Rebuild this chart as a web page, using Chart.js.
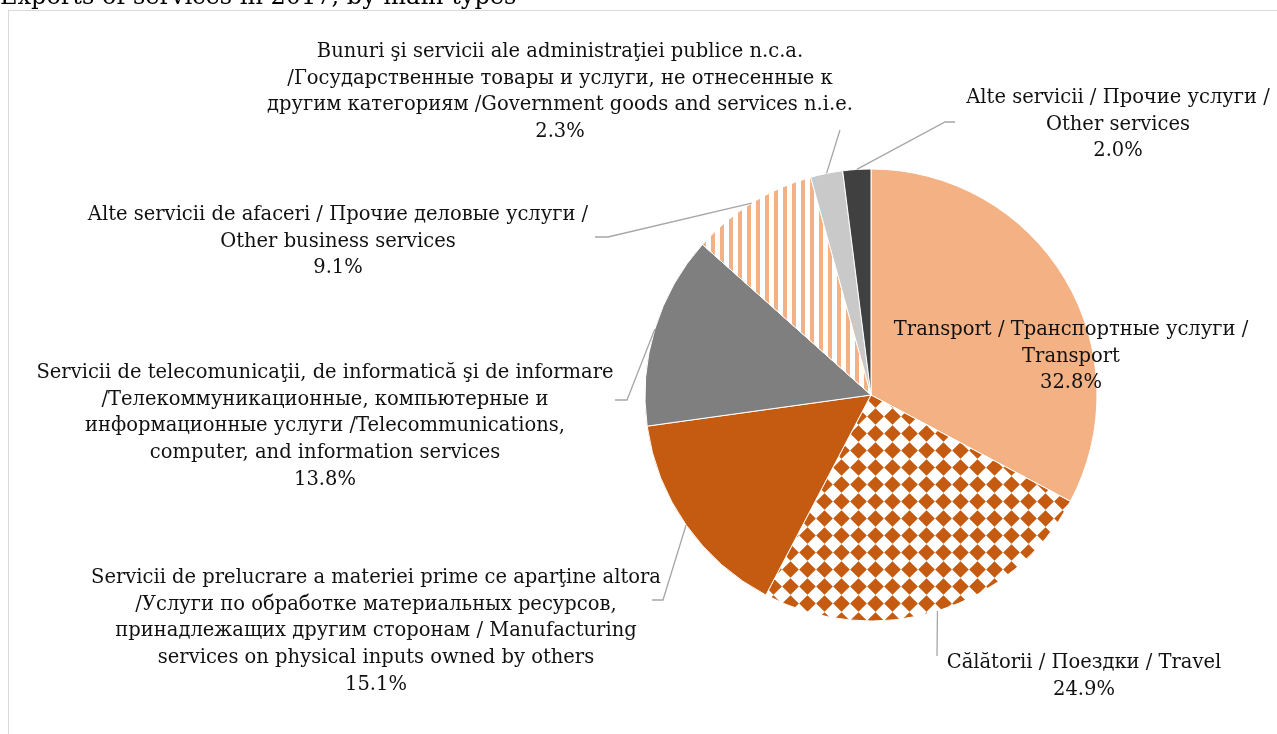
<!DOCTYPE html>
<html>
<head>
<meta charset="utf-8">
<script src="https://cdn.jsdelivr.net/npm/chart.js@4/dist/chart.umd.min.js"></script>
<style>
    html, body { margin: 0; padding: 0; background: #fff; }
    #wrap { position: relative; width: 1277px; height: 734px; }
</style>
</head>
<body>
<div id="wrap"><canvas id="chart" width="1277" height="734"></canvas></div>
<script>
const chartTitle = 'Exports of services in 2017, by main types';

const categories = [
    ['Transport / Транспортные услуги /', 'Transport'],
    ['Călătorii / Поездки / Travel'],
    ['Servicii de prelucrare a materiei prime ce aparţine altora', '/Услуги по обработке материальных ресурсов,', 'принадлежащих другим сторонам / Manufacturing', 'services on physical inputs owned by others'],
    ['Servicii de telecomunicaţii, de informatică şi de informare', '/Телекоммуникационные, компьютерные и', 'информационные услуги /Telecommunications,', 'computer, and information services'],
    ['Alte servicii de afaceri / Прочие деловые услуги /', 'Other business services'],
    ['Bunuri şi servicii ale administraţiei publice n.c.a.', '/Государственные товары и услуги, не отнесенные к', 'другим категориям /Government goods and services n.i.e.'],
    ['Alte servicii / Прочие услуги /', 'Other services']
];

const shares = [32.8, 24.9, 15.1, 13.8, 9.1, 2.3, 2.0];

// where each label block sits (centre x, centre of first line)
const labelAnchors = [
    [1071, 330], [1084, 663], [376, 578], [325, 373], [338, 215], [560, 52], [1118, 98]
];
// leader line points after the slice edge, null = label inside the slice
const leaderPoints = [
    null,
    [[937, 656]],
    [[663, 600], [652, 600]],
    [[627, 400], [615, 400]],
    [[608, 237], [595, 237]],
    [[840, 130]],
    [[945, 122], [955, 122]]
];

function stripes(color) {
    const c = document.createElement('canvas');
    c.width = 9; c.height = 9;
    const g = c.getContext('2d');
    g.fillStyle = '#fff';
    g.fillRect(0, 0, 9, 9);
    g.fillStyle = color;
    g.fillRect(0, 0, 4, 9);
    return g.createPattern(c, 'repeat');
}

function diamonds(color) {
    const s = 17, h = 8.3;
    const c = document.createElement('canvas');
    c.width = s; c.height = s;
    const g = c.getContext('2d');
    g.fillStyle = '#fff';
    g.fillRect(0, 0, s, s);
    g.fillStyle = color;
    g.beginPath();
    g.moveTo(s / 2, s / 2 - h);
    g.lineTo(s / 2 + h, s / 2);
    g.lineTo(s / 2, s / 2 + h);
    g.lineTo(s / 2 - h, s / 2);
    g.closePath();
    g.fill();
    return g.createPattern(c, 'repeat');
}

const fills = [
    '#F4B183',
    diamonds('#C55A11'),
    '#C55A11',
    '#7F7F7F',
    stripes('#F4B183'),
    '#C9C9C9',
    '#404040'
];

const labelFont = '19.5px "DejaVu Serif"';
const lineStep = 26.7;

const framePlugin = {
    id: 'frame',
    beforeDraw(chart) {
        const ctx = chart.ctx;
        ctx.save();
        ctx.strokeStyle = '#D9D9D9';
        ctx.lineWidth = 1;
        ctx.strokeRect(8.5, 10.5, 1400, 900);
        ctx.fillStyle = '#000';
        ctx.font = '24px "DejaVu Serif"';
        ctx.textBaseline = 'alphabetic';
        ctx.textAlign = 'left';
        ctx.fillText(chartTitle, 0, 4);
        ctx.restore();
    }
};

const labelPlugin = {
    id: 'sliceLabels',
    afterDatasetsDraw(chart) {
        const ctx = chart.ctx;
        const arcs = chart.getDatasetMeta(0).data;
        ctx.save();
        ctx.strokeStyle = '#A6A6A6';
        ctx.lineWidth = 1.3;
        arcs.forEach((arc, i) => {
            const pts = leaderPoints[i];
            if (!pts) return;
            const p = arc.getProps(['x', 'y', 'startAngle', 'endAngle', 'outerRadius'], true);
            const mid = (p.startAngle + p.endAngle) / 2;
            ctx.beginPath();
            ctx.moveTo(p.x + Math.cos(mid) * p.outerRadius, p.y + Math.sin(mid) * p.outerRadius);
            pts.forEach(q => ctx.lineTo(q[0], q[1]));
            ctx.stroke();
        });
        ctx.fillStyle = '#111';
        ctx.font = labelFont;
        ctx.textAlign = 'center';
        ctx.textBaseline = 'middle';
        categories.forEach((lines, i) => {
            const [x, y] = labelAnchors[i];
            const all = lines.concat([shares[i].toFixed(1) + '%']);
            all.forEach((t, k) => ctx.fillText(t, x, y + k * lineStep));
        });
        ctx.restore();
    }
};

new Chart(document.getElementById('chart'), {
    type: 'pie',
    data: {
        labels: categories.map(l => l.join(' ')),
        datasets: [{
            data: shares,
            backgroundColor: fills,
            borderColor: '#fff',
            borderWidth: 1,
            hoverOffset: 0,
            radius: 226
        }]
    },
    options: {
        responsive: false,
        animation: false,
        events: [],
        layout: { padding: { left: 645, right: 180, top: 169, bottom: 113 } },
        plugins: {
            legend: { display: false },
            tooltip: { enabled: false }
        }
    },
    plugins: [framePlugin, labelPlugin]
});
</script>
</body>
</html>
